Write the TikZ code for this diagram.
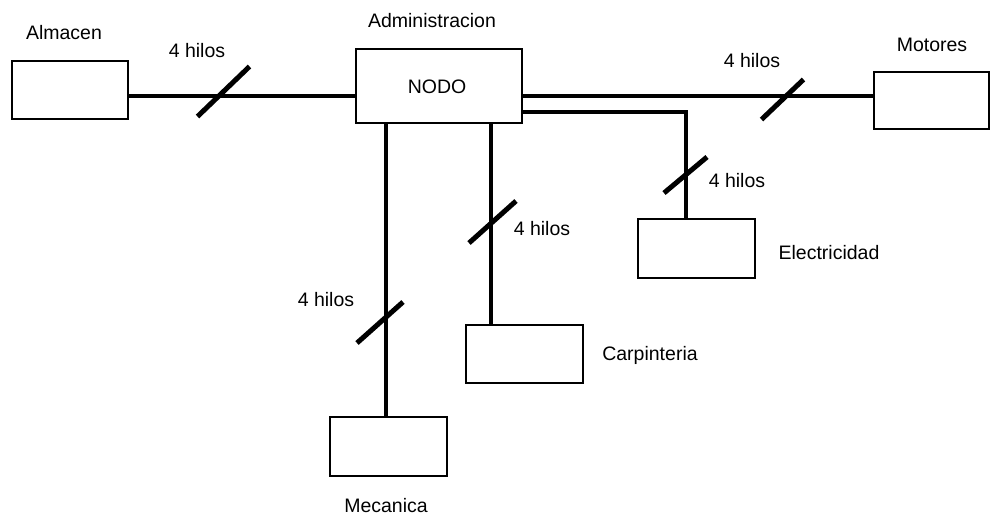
\documentclass[tikz,border=0pt]{standalone}
\usepackage{fontspec}
\setmainfont{Liberation Sans}
\usetikzlibrary{calc}

\tikzset{
  station/.style={draw, line width=2pt, rectangle, inner sep=0pt},
  cable/.style={line width=3.4pt},
  bundle/.style={line width=5pt},
  lbl/.style={inner sep=0pt, font=\fontsize{19.5}{23}\selectfont}
}

\begin{document}
\begin{tikzpicture}[x=1pt, y=-1pt]
  \useasboundingbox (0,0) rectangle (990,517);

  % stations
  \node[station, minimum width=116pt, minimum height=58pt] (almacen) at (70,90) {};
  \node[station, minimum width=166pt, minimum height=74pt] (nodo) at (439,86) {};
  \node[station, minimum width=115pt, minimum height=57pt] (motores) at (931.5,100.5) {};
  \node[station, minimum width=117pt, minimum height=59pt] (elec) at (696.5,248.5) {};
  \node[station, minimum width=117pt, minimum height=58pt] (carp) at (524.5,354) {};
  \node[station, minimum width=117pt, minimum height=59pt] (meca) at (388.5,446.5) {};

  % labels
  \node[lbl] (tAlm) at (64,33) {Almacen};
  \node[lbl] (tAdm) at (432,21) {Administracion};
  \node[lbl] (tNodo) at (437,87) {NODO};
  \node[lbl] (tMot) at (932,45) {Motores};
  \node[lbl] (tEle) at (829,253) {Electricidad};
  \node[lbl] (tCar) at (650,355) {Carpinteria};
  \node[lbl] (tMec) at (386,506) {Mecanica};
  \node[lbl] (h1) at (197,51) {4 hilos};
  \node[lbl] (h2) at (752,61) {4 hilos};
  \node[lbl] (h3) at (737,181) {4 hilos};
  \node[lbl] (h4) at (542,229) {4 hilos};
  \node[lbl] (h5) at (326,300) {4 hilos};

  % routing points
  \coordinate (bus) at (0,96);
  \coordinate (etap) at (686,112);
  \coordinate (cx) at (491,0);
  \coordinate (mx) at (386,0);

  % cables
  \draw[cable] (almacen.east |- bus) -- (nodo.west |- bus);
  \draw[cable] (nodo.east |- bus) -- (motores.west |- bus);
  \draw[cable] (nodo.east |- etap) -- (etap) -- (etap |- elec.north);
  \draw[cable] (cx |- nodo.south) -- (cx |- carp.north);
  \draw[cable] (mx |- nodo.south) -- (mx |- meca.north);

  % wire-count marks
  \coordinate (s1) at (223.5,91.5);
  \coordinate (s2) at (782.5,99.5);
  \coordinate (s3) at (685.5,175);
  \coordinate (s4) at (492.5,222);
  \coordinate (s5) at (380,322.5);
  \draw[bundle] ($(s1)+(-26,25)$) -- ($(s1)+(26,-25)$);
  \draw[bundle] ($(s2)+(-21,20)$) -- ($(s2)+(21,-20)$);
  \draw[bundle] ($(s3)+(-21.5,18)$) -- ($(s3)+(21.5,-18)$);
  \draw[bundle] ($(s4)+(-23.5,21)$) -- ($(s4)+(23.5,-21)$);
  \draw[bundle] ($(s5)+(-23,20.5)$) -- ($(s5)+(23,-20.5)$);
\end{tikzpicture}
\end{document}
